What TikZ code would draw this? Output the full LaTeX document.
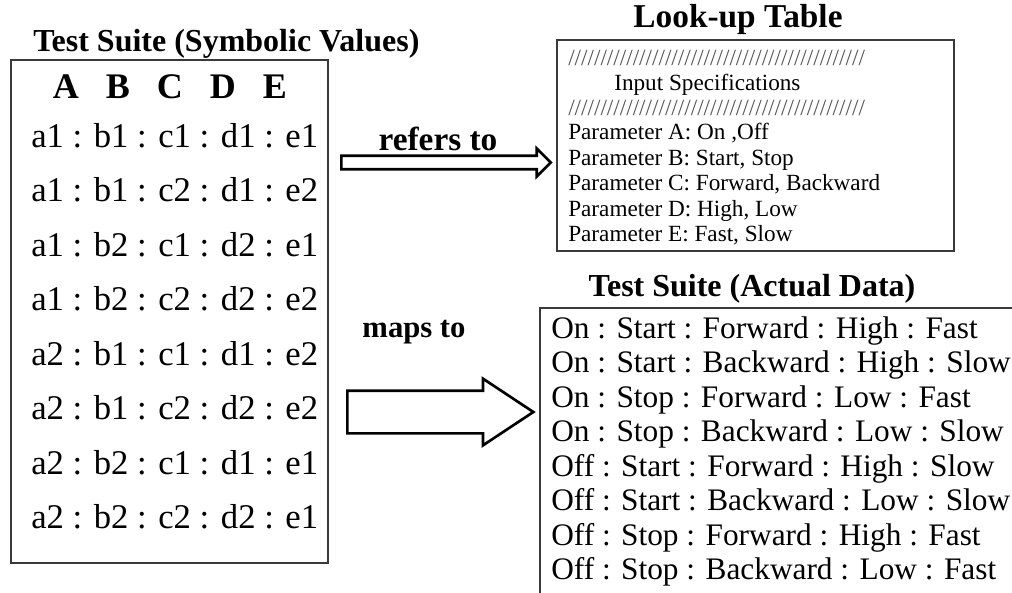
\documentclass[tikz,border=0pt]{standalone}
\usepackage{fontspec}
\setmainfont{Liberation Serif}
\usepackage{tikz}
\usetikzlibrary{positioning,shapes.arrows}
\definecolor{frame}{HTML}{3A3A3A}
\definecolor{hatch}{HTML}{555555}

\begin{document}
\begin{tikzpicture}[x=0.75pt, y=-0.75pt,
    panel/.style={draw=frame, line width=1.1pt},
    heading/.style={font=\bfseries\fontsize{24}{28}\selectfont, inner sep=0pt, anchor=base},
    symrow/.style={font=\fontsize{26}{30}\selectfont, inner sep=0pt, anchor=base west},
    datarow/.style={font=\fontsize{23.5}{28}\selectfont, inner sep=0pt, anchor=base west},
    specrow/.style={font=\fontsize{17.4}{20}\selectfont, inner sep=0pt, anchor=base west},
    arrowlabel/.style={font=\bfseries\fontsize{25}{28}\selectfont, inner sep=0pt, anchor=base},
    blockarrow/.style={single arrow, draw, line width=2pt, fill=white, inner xsep=0pt, anchor=tail}
]
    \useasboundingbox (0,0) rectangle (1012,592);
    \clip (0,0) rectangle (1012,592);

    % panels
    \draw[panel] (11,60) rectangle (328,563);
    \draw[panel] (557,40) rectangle (954,251);
    \draw[panel] (540,620) -- (540,308) -- (1030,308);

    % headings
    \node[heading, anchor=base west] (symtitle) at (33,51) {Test Suite (Symbolic Values)};
    \node[heading, font=\bfseries\fontsize{25}{30}\selectfont] (lutitle) at (738,28) {Look-up Table};
    \node[heading] (datatitle) at (752,296) {Test Suite (Actual Data)};

    % symbolic test suite
    \node[heading, font=\bfseries\fontsize{27}{32}\selectfont] (cols) at (170,98) {A~~~B~~~C~~~D~~~E};
    \node[symrow] (s1) at (31,147) {a1 : b1 : c1 : d1 : e1};
    \node[symrow] (s2) at (31,201.5) {a1 : b1 : c2 : d1 : e2};
    \node[symrow] (s3) at (31,256) {a1 : b2 : c1 : d2 : e1};
    \node[symrow] (s4) at (31,310.5) {a1 : b2 : c2 : d2 : e2};
    \node[symrow] (s5) at (31,365) {a2 : b1 : c1 : d1 : e2};
    \node[symrow] (s6) at (31,419.5) {a2 : b1 : c2 : d2 : e2};
    \node[symrow] (s7) at (31,474) {a2 : b2 : c1 : d1 : e1};
    \node[symrow] (s8) at (31,528.5) {a2 : b2 : c2 : d2 : e1};

    % look-up table
    \node[specrow, text=hatch] (hatch1) at (568,65) {//////////////////////////////////////////////};
    \node[specrow] (spec) at (614,90) {Input Specifications};
    \node[specrow, text=hatch] (hatch2) at (568,115) {//////////////////////////////////////////////};
    \node[specrow] (pa) at (568,139) {Parameter A: On ,Off};
    \node[specrow] (pb) at (568,165) {Parameter B: Start, Stop};
    \node[specrow] (pc) at (568,190) {Parameter C: Forward, Backward};
    \node[specrow] (pd) at (568,216) {Parameter D: High, Low};
    \node[specrow] (pe) at (568,241) {Parameter E: Fast, Slow};

    % actual test data
    \node[datarow] (d1) at (551,338) {On : Start : Forward : High : Fast};
    \node[datarow] (d2) at (551,372.5) {On : Start : Backward : High : Slow};
    \node[datarow] (d3) at (551,407) {On : Stop : Forward : Low : Fast};
    \node[datarow] (d4) at (551,441.5) {On : Stop : Backward : Low : Slow};
    \node[datarow] (d5) at (551,476) {Off : Start : Forward : High : Slow};
    \node[datarow] (d6) at (551,510.5) {Off : Start : Backward : Low : Slow};
    \node[datarow] (d7) at (551,545) {Off : Stop : Forward : High : Fast};
    \node[datarow] (d8) at (551,579.5) {Off : Stop : Backward : Low : Fast};

    % block arrows
    \node[blockarrow, inner ysep=4.1pt, single arrow head extend=5.3pt,
          minimum height=157pt] (refers) at (340,162.5) {};
    \node[blockarrow, inner ysep=15pt, single arrow head extend=9pt,
          single arrow tip angle=67, minimum height=139.5pt] (maps) at (346,412) {};
    \node[arrowlabel] (refertext) at (438,150) {refers to};
    \node[arrowlabel, font=\bfseries\fontsize{23}{28}\selectfont] (maptext) at (414,337) {maps to};
\end{tikzpicture}
\end{document}
